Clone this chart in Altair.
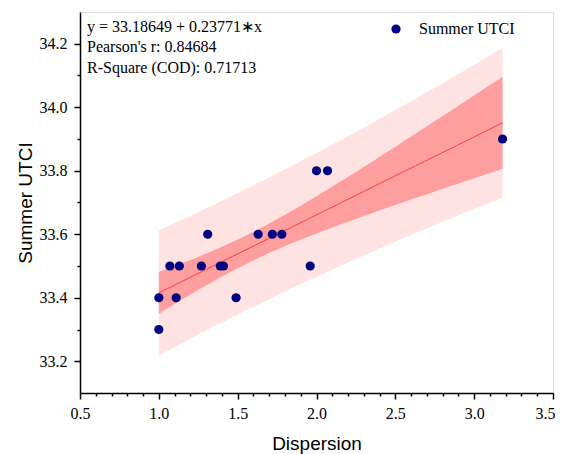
import altair as alt
import numpy as np
import pandas as pd

# ---- data ----
dispersion = [1.0, 1.0, 1.07, 1.11, 1.13, 1.27, 1.31, 1.39, 1.41, 1.49,
              1.63, 1.72, 1.78, 1.96, 2.0, 2.07, 3.18]
summer_utci = [33.3, 33.4, 33.5, 33.4, 33.5, 33.5, 33.6, 33.5, 33.5, 33.4,
               33.6, 33.6, 33.6, 33.5, 33.8, 33.8, 33.9]
series_name = "Summer UTCI"
stats_lines = ["y = 33.18649 + 0.23771\u2217x",
               "Pearson's r: 0.84684",
               "R-Square (COD): 0.71713"]
x_major_ticks = [0.5, 1.0, 1.5, 2.0, 2.5, 3.0, 3.5]
x_minor_ticks = [0.6, 0.7, 0.8, 0.9, 1.1, 1.2, 1.3, 1.4, 1.6, 1.7, 1.8, 1.9,
                 2.1, 2.2, 2.3, 2.4, 2.6, 2.7, 2.8, 2.9, 3.1, 3.2, 3.3, 3.4]
y_major_ticks = [33.2, 33.4, 33.6, 33.8, 34.0, 34.2]
y_minor_ticks = [33.3, 33.5, 33.7, 33.9, 34.1]

# ---- linear fit with 95% confidence and prediction bands ----
xa = np.array(dispersion)
ya = np.array(summer_utci)
n = len(xa)
slope, intercept = np.polyfit(xa, ya, 1)
resid = ya - (intercept + slope * xa)
s = np.sqrt((resid ** 2).sum() / (n - 2))
xm = xa.mean()
sxx = ((xa - xm) ** 2).sum()
t975 = 2.131  # Student t, 15 dof
grid = np.linspace(xa.min(), xa.max(), 80)
fit = intercept + slope * grid
conf = t975 * s * np.sqrt(1.0 / n + (grid - xm) ** 2 / sxx)
pred = t975 * s * np.sqrt(1.0 + 1.0 / n + (grid - xm) ** 2 / sxx)
band = pd.DataFrame({"x": grid, "fit": fit,
                     "clo": fit - conf, "chi": fit + conf,
                     "plo": fit - pred, "phi": fit + pred})
points = pd.DataFrame({"x": dispersion, "y": summer_utci,
                       "series": [series_name] * n})
text_df = pd.DataFrame({"t": ["\n".join(stats_lines)]})

serif = "Liberation Serif"
sans = "Liberation Sans"

xscale = alt.Scale(domain=[0.5, 3.5], nice=False, zero=False)
yscale = alt.Scale(domain=[33.1, 34.3], nice=False, zero=False)

common = dict(grid=False, tickColor="black", tickWidth=1.5)

x_axis = alt.Axis(
    orient="bottom", values=x_major_ticks, format=".1f", tickSize=6,
    labelFont=serif, labelFontSize=16, labelColor="black", labelPadding=6,
    labelOverlap=False, labelFlush=False,
    labelOffset={"condition": {"test": "datum.value > 3.45", "value": -8}, "value": 0},
    titleFont=sans, titleFontSize=19, titleFontWeight="normal", titleColor="black",
    titlePadding=13, domainColor="black", domainWidth=1.5, **common,
)
y_axis = alt.Axis(
    orient="left", values=y_major_ticks, format=".1f", tickSize=6,
    labelFont=serif, labelFontSize=16, labelColor="black", labelPadding=7,
    labelOverlap=False, labelFlush=False,
    titleFont=sans, titleFontSize=19, titleFontWeight="normal", titleColor="black",
    titlePadding=4, domainColor="black", domainWidth=1.5, **common,
)
x_minor_axis = alt.Axis(orient="bottom", values=x_minor_ticks, tickSize=3,
                        labels=False, domain=False, title=None, **common)
y_minor_axis = alt.Axis(orient="left", values=y_minor_ticks, tickSize=3,
                        labels=False, domain=False, title=None, **common)

X = alt.X("x:Q", scale=xscale, axis=x_axis, title="Dispersion")

pred_band = alt.Chart(band).mark_area(color="#FFE3E3", opacity=1).encode(
    x=X,
    y=alt.Y("plo:Q", scale=yscale, axis=y_axis, title="Summer UTCI"),
    y2="phi:Q",
)
conf_band = alt.Chart(band).mark_area(color="#FF9E9E", opacity=1).encode(
    x=alt.X("x:Q", scale=xscale, axis=None),
    y=alt.Y("clo:Q", scale=yscale, axis=None), y2="chi:Q"
)
fit_line = alt.Chart(band).mark_line(color="#FF3B3B", strokeWidth=1).encode(
    x=alt.X("x:Q", scale=xscale, axis=None),
    y=alt.Y("fit:Q", scale=yscale, axis=None)
)
minor = alt.Chart(points).mark_point(opacity=0).encode(
    x=alt.X("x:Q", scale=xscale, axis=x_minor_axis),
    y=alt.Y("y:Q", scale=yscale, axis=y_minor_axis),
)
dots = alt.Chart(points).mark_circle(size=85, opacity=1).encode(
    x=alt.X("x:Q", scale=xscale, axis=None),
    y=alt.Y("y:Q", scale=yscale, axis=None),
    color=alt.Color("series:N",
                    scale=alt.Scale(domain=[series_name], range=["#000080"]),
                    legend=alt.Legend(title=None, orient="none", legendX=308, legendY=9,
                                      labelFont=serif, labelFontSize=16, labelColor="black",
                                      symbolType="circle", symbolSize=85, labelOffset=15,
                                      symbolStrokeWidth=0)),
)
stats = alt.Chart(text_df).mark_text(
    align="left", baseline="top", font=serif, fontSize=16, color="black",
    lineBreak="\n", lineHeight=20.3,
).encode(x=alt.value(7), y=alt.value(7), text="t:N")

chart = alt.layer(pred_band, conf_band, fit_line, minor, dots, stats).resolve_axis(
    x="independent", y="independent"
).properties(
    width=473, height=381,
    autosize=alt.AutoSizeParams(type="none"),
    padding={"left": 72, "top": 4, "right": 2, "bottom": 62},
).configure_view(stroke="black", strokeWidth=1.5).configure(background="white")

chart.save("out.html", embed_options={"renderer": "svg", "actions": False})
